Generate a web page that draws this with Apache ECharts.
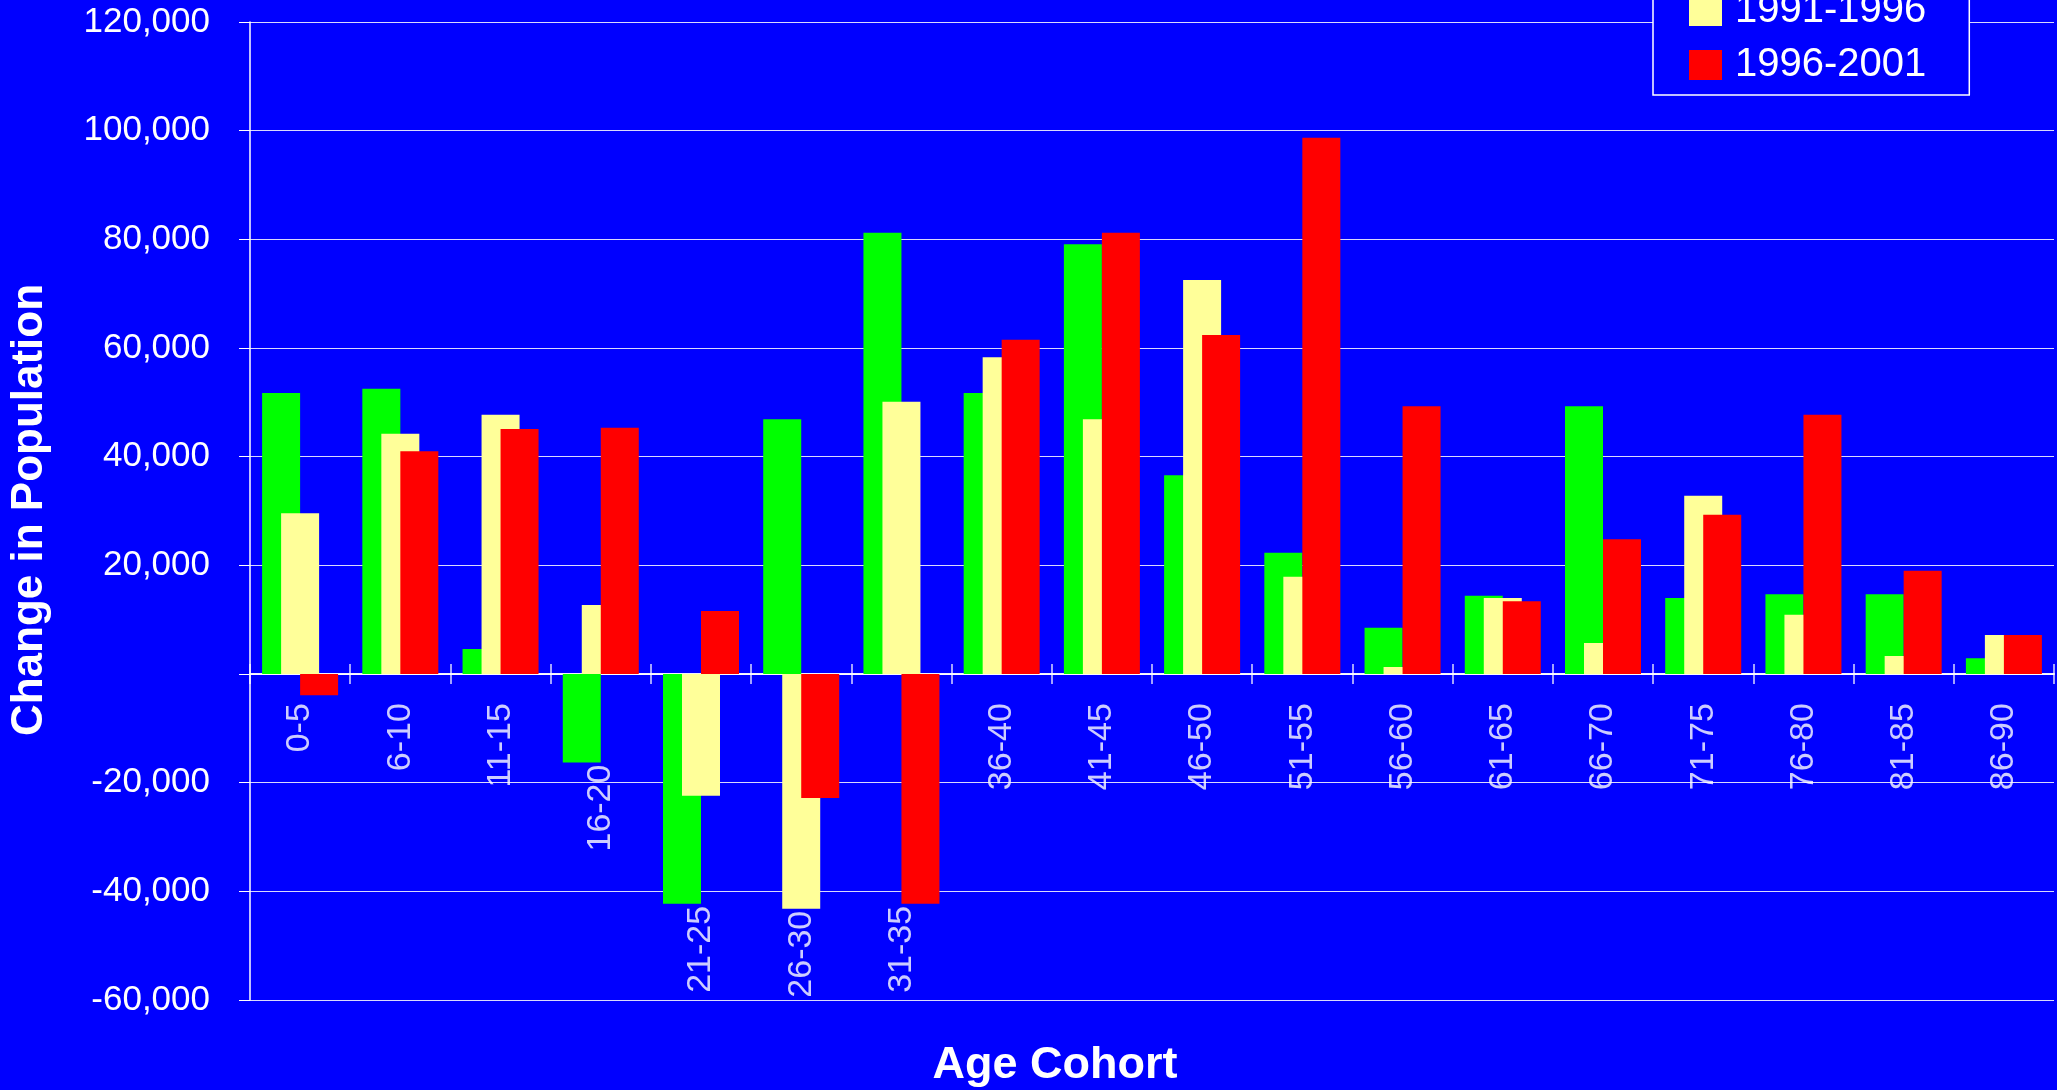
<!DOCTYPE html>
<html>
<head>
<meta charset="utf-8">
<title>Change in Population by Age Cohort</title>
<script src="https://cdn.jsdelivr.net/npm/echarts@6/dist/echarts.min.js"></script>
<style>
  html, body { margin: 0; padding: 0; background: #0000ff; }
  #chart { width: 2057px; height: 1090px; }
</style>
</head>
<body>
<div id="chart"></div>
<script>
// 年龄组
var categories = ["0-5", "6-10", "11-15", "16-20", "21-25", "26-30", "31-35", "36-40", "41-45",
  "46-50", "51-55", "56-60", "61-65", "66-70", "71-75", "76-80", "81-85", "86-90"];
var seriesNames = ["1986-1991", "1991-1996", "1996-2001"];
// 各时期人口变化
var change8691 = [51700, 52500, 4600, -16300, -42300, 46900, 81200, 51700, 79100,
  36600, 22300, 8500, 14400, 49300, 14000, 14700, 14700, 2900];
var change9196 = [29600, 44200, 47700, 12700, -22400, -43200, 50100, 58300, 46900,
  72500, 17900, 1300, 14000, 5700, 32800, 10900, 3300, 7200];
var change9601 = [-3900, 41000, 45100, 45300, 11600, -22800, -42300, 61500, 81200,
  62400, 98700, 49300, 13400, 24800, 29300, 47700, 19000, 7200];
var yTicks = { min: -60000, max: 120000, step: 20000 };

function drawChart() {
  var myChart = echarts.init(document.querySelector("#chart"));
  var font = "'Liberation Sans', Arial, sans-serif";

  // 类目标签放在最低柱子下方
  var labelFloor = -5000;
  var labelData = [];
  for (var i = 0; i < categories.length; i++) {
    var low = Math.min(labelFloor, change8691[i], change9196[i], change9601[i]);
    labelData.push([categories[i], low]);
  }

  var barBase = {
    type: "bar",
    barWidth: 38,
    barGap: "-50%",
    xAxisIndex: 0,
    yAxisIndex: 0
  };

  var tickStyle = { color: "rgba(255,255,255,0.85)", width: 1.5 };

  var option = {
    backgroundColor: "#0000ff",
    animation: false,
    color: ["#00ff00", "#ffff99", "#ff0000"],
    textStyle: { fontFamily: font },
    grid: {
      left: 250,
      right: 3,
      top: 22,
      bottom: 90,
      containLabel: false
    },
    legend: {
      data: seriesNames,
      orient: "vertical",
      left: 1653,
      top: -77,
      icon: "rect",
      itemWidth: 33,
      itemHeight: 30,
      itemGap: 14,
      padding: [14, 43, 10, 36],
      backgroundColor: "#0000ff",
      borderColor: "#ffffff",
      borderWidth: 1.5,
      borderRadius: 0,
      textStyle: {
        color: "#ffffff",
        fontSize: 40,
        fontFamily: font,
        padding: [0, 0, 0, 8]
      }
    },
    xAxis: [{
      type: "category",
      data: categories,
      position: "bottom",
      axisLine: {
        onZero: true,
        onZeroAxisIndex: 0,
        lineStyle: { color: "#ffffff", width: 1.5 }
      },
      axisTick: { show: true, length: 10, lineStyle: tickStyle },
      axisLabel: { show: false },
      splitLine: { show: false }
    }, {
      // 向上的刻度，挂在第二个y轴的零点
      type: "category",
      data: categories,
      position: "bottom",
      axisLine: {
        show: true,
        onZero: true,
        onZeroAxisIndex: 1,
        lineStyle: { color: "#ffffff", width: 1.5 }
      },
      axisTick: { show: true, inside: true, length: 10, lineStyle: tickStyle },
      axisLabel: { show: false },
      splitLine: { show: false }
    }],
    yAxis: [{
      type: "value",
      min: yTicks.min,
      max: yTicks.max,
      interval: yTicks.step,
      axisLine: {
        show: true,
        lineStyle: { color: "#ffffff", width: 1.5 }
      },
      axisTick: {
        show: true,
        length: 11,
        lineStyle: { color: "#ffffff", width: 1 }
      },
      axisLabel: {
        color: "#ffffff",
        fontSize: 35,
        fontFamily: font,
        margin: 40,
        formatter: function (v) {
          if (v === 0) return "";
          return v.toLocaleString("en-US");
        }
      },
      splitLine: {
        lineStyle: { color: "rgba(255,255,255,0.85)", width: 1 }
      }
    }, {
      // 隐藏的辅助轴
      type: "value",
      min: yTicks.min,
      max: yTicks.max,
      interval: yTicks.step,
      position: "right",
      axisLine: { show: false },
      axisTick: { show: false },
      axisLabel: { show: false },
      splitLine: { show: false }
    }],
    series: [
      Object.assign({ name: seriesNames[0], data: change8691 }, barBase),
      Object.assign({ name: seriesNames[1], data: change9196 }, barBase),
      Object.assign({ name: seriesNames[2], data: change9601 }, barBase),
      {
        name: "labels",
        type: "scatter",
        silent: true,
        symbolSize: 0,
        data: labelData,
        z: 5,
        label: {
          show: true,
          position: "bottom",
          distance: 2,
          rotate: 90,
          align: "right",
          verticalAlign: "middle",
          color: "#ffffff",
          fontSize: 34,
          fontFamily: font,
          formatter: function (p) {
            return categories[p.dataIndex];
          }
        }
      }
    ],
    graphic: [{
      type: "text",
      x: 30,
      y: 510,
      rotation: Math.PI / 2,
      style: {
        text: "Change in Population",
        fill: "#ffffff",
        font: "bold 44px " + font,
        textAlign: "center",
        textVerticalAlign: "middle"
      }
    }, {
      type: "text",
      x: 1055,
      y: 1066,
      style: {
        text: "Age Cohort",
        fill: "#ffffff",
        font: "bold 45px " + font,
        textAlign: "center",
        textVerticalAlign: "middle"
      }
    }]
  };

  myChart.setOption(option);

  window.addEventListener("resize", function () {
    myChart.resize();
  });
}
drawChart();
</script>
</body>
</html>
